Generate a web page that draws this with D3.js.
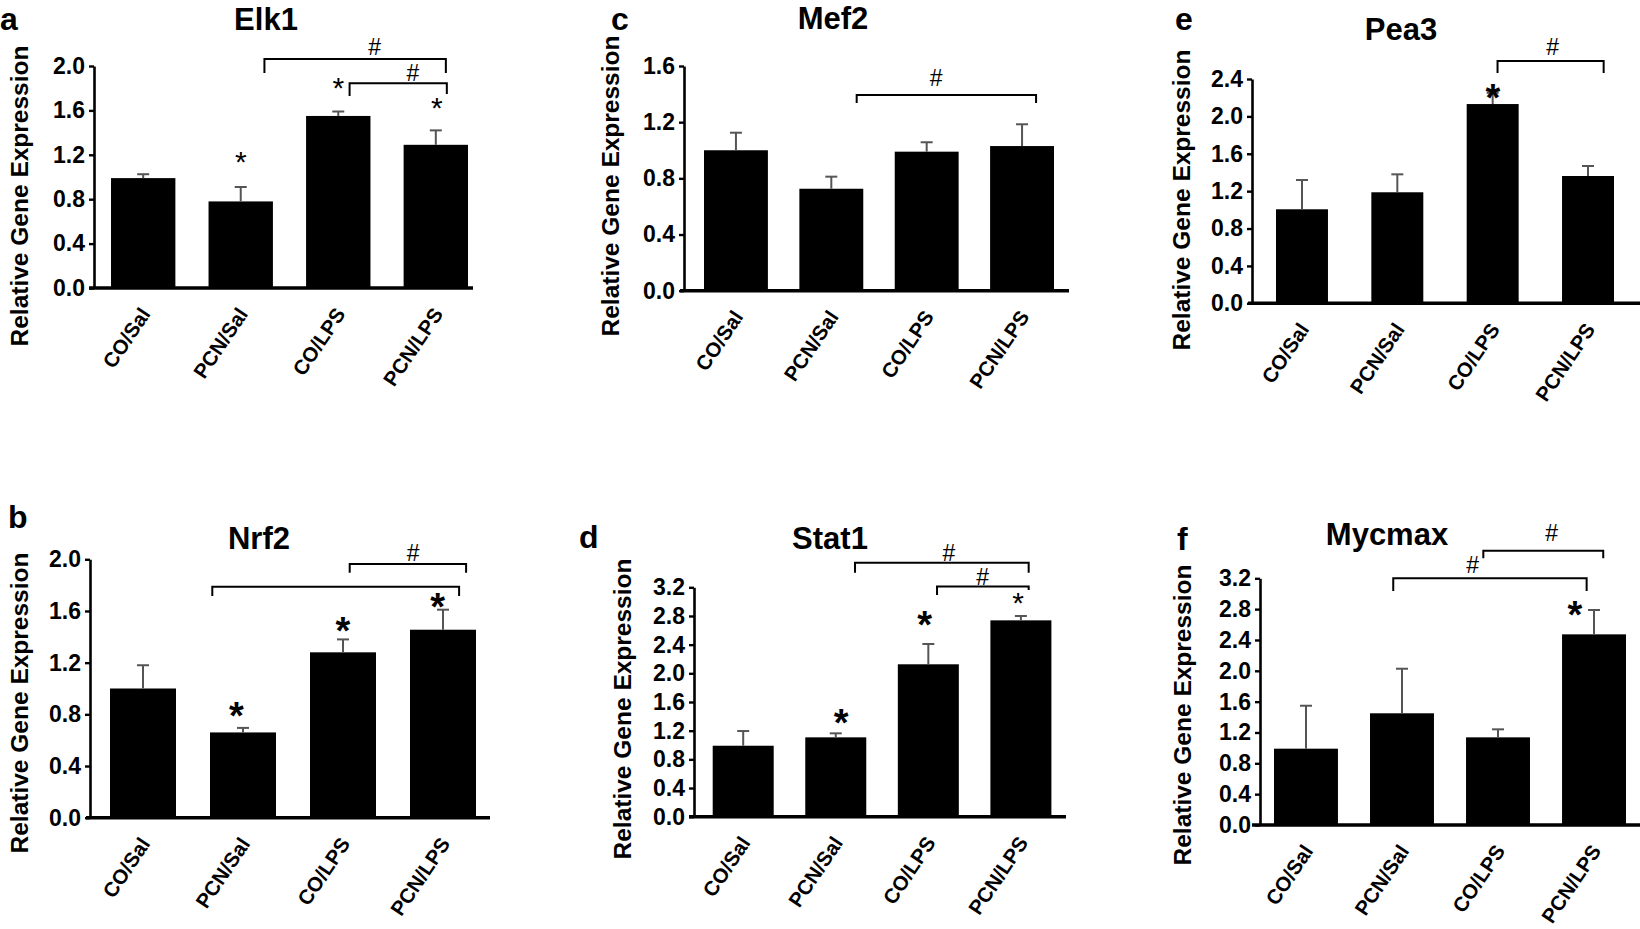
<!DOCTYPE html>
<html>
<head>
<meta charset="utf-8">
<script src="https://cdn.jsdelivr.net/npm/d3@7/dist/d3.min.js"></script>
<style>
  html, body { margin: 0; padding: 0; background: #ffffff; }
  svg { display: block; }
  text { font-family: "Liberation Sans", Arial, Helvetica, sans-serif; }
</style>
</head>
<body>
<svg id="chart" width="1640" height="929"></svg>
<script>
// ---------------- DATA ----------------
const categories = ["CO/Sal", "PCN/Sal", "CO/LPS", "PCN/LPS"];

const elk1Values   = [0.99, 0.78, 1.55, 1.29];
const elk1Errors   = [0.035, 0.13, 0.04, 0.13];
const nrf2Values   = [1.00, 0.66, 1.28, 1.455];
const nrf2Errors   = [0.18, 0.035, 0.10, 0.155];
const mef2Values   = [1.00, 0.726, 0.99, 1.03];
const mef2Errors   = [0.125, 0.086, 0.067, 0.155];
const stat1Values  = [0.99, 1.107, 2.126, 2.739];
const stat1Errors  = [0.205, 0.056, 0.283, 0.061];
const pea3Values   = [1.006, 1.188, 2.132, 1.362];
const pea3Errors   = [0.313, 0.192, 0.12, 0.107];
const mycmaxValues = [0.99, 1.449, 1.137, 2.473];
const mycmaxErrors = [0.557, 0.578, 0.104, 0.316];

const ticks20 = [0.0, 0.4, 0.8, 1.2, 1.6, 2.0];
const ticks16 = [0.0, 0.4, 0.8, 1.2, 1.6];
const ticks24 = [0.0, 0.4, 0.8, 1.2, 1.6, 2.0, 2.4];
const ticks32 = [0.0, 0.4, 0.8, 1.2, 1.6, 2.0, 2.4, 2.8, 3.2];

// significance marks, in data space (t = category index, v = value)
const elk1Stars   = [{t: 1.0, v: 1.19, bold: false}, {t: 2.0, v: 1.856, bold: false}, {t: 3.01, v: 1.676, bold: false}];
const elk1Brackets = [
  {t1: 1.243, t2: 3.103, v: 2.063, leg1: 1.937, leg2: 1.937, label: "#", lt: 2.373, lv: 2.171},
  {t1: 2.116, t2: 3.113, v: 1.844, leg1: 1.73, leg2: 1.748, label: "#", lt: 2.764, lv: 1.937}
];
const nrf2Stars   = [{t: 0.933, v: 0.849, bold: true}, {t: 2.0, v: 1.505, bold: true}, {t: 2.946, v: 1.693, bold: true}];
const nrf2Brackets = [
  {t1: 2.067, t2: 3.231, v: 1.964, leg1: 1.896, leg2: 1.896, label: "#", lt: 2.701, lv: 2.046},
  {t1: 0.693, t2: 3.161, v: 1.788, leg1: 1.716, leg2: 1.716, label: "", lt: 0, lv: 0}
];
const mef2Stars   = [];
const mef2Brackets = [
  {t1: 1.266, t2: 3.147, v: 1.393, leg1: 1.336, leg2: 1.336, label: "#", lt: 2.098, lv: 1.514}
];
const stat1Stars  = [{t: 1.057, v: 1.419, bold: true}, {t: 1.96, v: 2.79, bold: true}, {t: 2.969, v: 3.078, bold: false}];
const stat1Brackets = [
  {t1: 1.208, t2: 3.084, v: 3.543, leg1: 3.404, leg2: 3.404, label: "#", lt: 2.222, lv: 3.672},
  {t1: 2.094, t2: 3.084, v: 3.211, leg1: 3.093, leg2: 3.163, label: "#", lt: 2.588, lv: 3.341}
];
const pea3Stars   = [{t: 2.002, v: 2.282, bold: true}];
const pea3Brackets = [
  {t1: 2.051, t2: 3.164, v: 2.593, leg1: 2.464, leg2: 2.464, label: "#", lt: 2.63, lv: 2.745}
];
const mycmaxStars = [{t: 2.801, v: 2.827, bold: true}];
const mycmaxBrackets = [
  {t1: 1.847, t2: 3.096, v: 3.558, leg1: 3.459, leg2: 3.459, label: "#", lt: 2.559, lv: 3.783},
  {t1: 0.909, t2: 2.923, v: 3.20, leg1: 3.035, leg2: 3.035, label: "#", lt: 1.737, lv: 3.372}
];

// ---------------- LAYOUT ----------------
const panels = [
  {letter: "a", title: "Elk1", values: elk1Values, errors: elk1Errors, ticks: ticks20, max: 2.0,
   stars: elk1Stars, brackets: elk1Brackets,
   L: 111, R: 468, pad: 0.34, yAxisX: 94, ax0: 89, ax1: 473, y0: 288, yTop: 66,
   titleX: 266, titleY: 30, letterX: 0, letterY: 30, labX: 19, labY: 196},
  {letter: "c", title: "Mef2", values: mef2Values, errors: mef2Errors, ticks: ticks16, max: 1.6,
   stars: mef2Stars, brackets: mef2Brackets,
   L: 704, R: 1054, pad: 0.33, yAxisX: 684, ax0: 680, ax1: 1069, y0: 290.7, yTop: 66,
   titleX: 833, titleY: 29, letterX: 611, letterY: 30, labX: 610, labY: 186},
  {letter: "e", title: "Pea3", values: pea3Values, errors: pea3Errors, ticks: ticks24, max: 2.4,
   stars: pea3Stars, brackets: pea3Brackets,
   L: 1276, R: 1614, pad: 0.455, yAxisX: 1252, ax0: 1248, ax1: 1640, y0: 303.3, yTop: 79,
   titleX: 1401, titleY: 40, letterX: 1175, letterY: 30, labX: 1181, labY: 200},
  {letter: "b", title: "Nrf2", values: nrf2Values, errors: nrf2Errors, ticks: ticks20, max: 2.0,
   stars: nrf2Stars, brackets: nrf2Brackets,
   L: 110, R: 476, pad: 0.34, yAxisX: 90, ax0: 86, ax1: 490, y0: 817.7, yTop: 559.3,
   titleX: 259, titleY: 549, letterX: 8, letterY: 528, labX: 19, labY: 703},
  {letter: "d", title: "Stat1", values: stat1Values, errors: stat1Errors, ticks: ticks32, max: 3.2,
   stars: stat1Stars, brackets: stat1Brackets,
   L: 712.7, R: 1051.4, pad: 0.341, yAxisX: 694, ax0: 689, ax1: 1066, y0: 816.7, yTop: 587.3,
   titleX: 830, titleY: 549, letterX: 579, letterY: 548, labX: 622, labY: 709},
  {letter: "f", title: "Mycmax", values: mycmaxValues, errors: mycmaxErrors, ticks: ticks32, max: 3.2,
   stars: mycmaxStars, brackets: mycmaxBrackets,
   L: 1274, R: 1626, pad: 0.334, yAxisX: 1260, ax0: 1252, ax1: 1640, y0: 825, yTop: 578.3,
   titleX: 1387, titleY: 545, letterX: 1177, letterY: 550, labX: 1182, labY: 715}
];

const svg = d3.select("#chart");

panels.forEach(p => {
  const g = svg.append("g");
  const x = d3.scaleBand().domain(categories).range([p.L, p.R]).paddingInner(p.pad).paddingOuter(0);
  const y = d3.scaleLinear().domain([0, p.max]).range([p.y0, p.yTop]);
  const center = c => x(c) + x.bandwidth() / 2;
  const xt = d3.scaleLinear().domain([0, categories.length - 1])
               .range([center(categories[0]), center(categories[categories.length - 1])]);

  // bars
  g.selectAll("rect.bar").data(categories).join("rect")
    .attr("class", "bar")
    .attr("x", d => x(d))
    .attr("width", x.bandwidth())
    .attr("y", (d, i) => y(p.values[i]))
    .attr("height", (d, i) => p.y0 - y(p.values[i]))
    .attr("fill", "#000");

  // error bars
  const eb = g.selectAll("g.err").data(categories).join("g").attr("class", "err");
  eb.append("line")
    .attr("x1", d => center(d)).attr("x2", d => center(d))
    .attr("y1", (d, i) => y(p.values[i]))
    .attr("y2", (d, i) => y(p.values[i] + p.errors[i]))
    .attr("stroke", "#555").attr("stroke-width", 2);
  eb.append("line")
    .attr("x1", d => center(d) - 6).attr("x2", d => center(d) + 6)
    .attr("y1", (d, i) => y(p.values[i] + p.errors[i]))
    .attr("y2", (d, i) => y(p.values[i] + p.errors[i]))
    .attr("stroke", "#555").attr("stroke-width", 2);

  // y axis
  const yAxis = d3.axisLeft(y).tickValues(p.ticks).tickFormat(d3.format(".1f"))
                  .tickSizeInner(5).tickSizeOuter(0).tickPadding(4);
  const ya = g.append("g").attr("transform", `translate(${p.yAxisX},0)`).call(yAxis);
  ya.select(".domain").attr("stroke", "#000").attr("stroke-width", 2.6);
  ya.selectAll(".tick line").attr("stroke", "#000").attr("stroke-width", 2.4);
  ya.selectAll(".tick text").attr("font-size", 23).attr("font-weight", "bold")
    .attr("font-family", "'Liberation Sans', Arial, sans-serif").attr("fill", "#000");

  // x axis line
  g.append("line")
    .attr("x1", p.ax0).attr("x2", p.ax1)
    .attr("y1", p.y0).attr("y2", p.y0)
    .attr("stroke", "#000").attr("stroke-width", 3.6);

  // x labels via axis
  const xAxis = d3.axisBottom(x).tickSize(0).tickPadding(0);
  const xa = g.append("g").attr("transform", `translate(0,${p.y0})`).call(xAxis);
  xa.select(".domain").remove();
  xa.selectAll(".tick text")
    .attr("font-size", 20.5).attr("font-weight", "bold")
    .attr("font-family", "'Liberation Sans', Arial, sans-serif").attr("fill", "#000")
    .attr("text-anchor", "end")
    .attr("dy", null).attr("y", null)
    .attr("transform", "translate(8,26) rotate(-56)");

  // title
  g.append("text").attr("x", p.titleX).attr("y", p.titleY)
    .attr("text-anchor", "middle").attr("font-size", 31).attr("font-weight", "bold")
    .text(p.title);

  // panel letter
  g.append("text").attr("x", p.letterX).attr("y", p.letterY)
    .attr("font-size", 32).attr("font-weight", "bold")
    .text(p.letter);

  // y label
  g.append("text")
    .attr("transform", `translate(${p.labX},${p.labY}) rotate(-90)`)
    .attr("text-anchor", "middle").attr("dominant-baseline", "central")
    .attr("font-size", 24.5).attr("font-weight", "bold")
    .text("Relative Gene Expression");

  // brackets
  p.brackets.forEach(b => {
    const path = d3.path();
    path.moveTo(xt(b.t1), y(b.leg1));
    path.lineTo(xt(b.t1), y(b.v));
    path.lineTo(xt(b.t2), y(b.v));
    path.lineTo(xt(b.t2), y(b.leg2));
    g.append("path").attr("d", path.toString())
      .attr("fill", "none").attr("stroke", "#000").attr("stroke-width", 2);
    if (b.label) {
      g.append("text").attr("x", xt(b.lt)).attr("y", y(b.lv) + 8)
        .attr("text-anchor", "middle").attr("font-size", 23)
        .text(b.label);
    }
  });

  // stars
  p.stars.forEach(s => {
    const fs = s.bold ? 38 : 30;
    g.append("text").attr("x", xt(s.t)).attr("y", y(s.v) + fs * 0.55)
      .attr("text-anchor", "middle").attr("font-size", fs)
      .attr("font-weight", s.bold ? "bold" : "normal")
      .text("*");
  });
});
</script>
</body>
</html>
